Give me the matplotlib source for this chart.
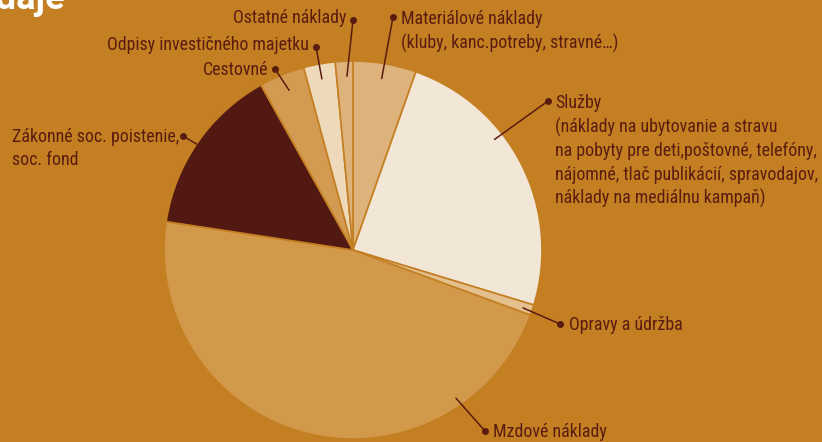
import matplotlib
matplotlib.use("Agg")
import matplotlib.pyplot as plt
from matplotlib import font_manager
import numpy as np

# ---- data ----
categories = ["Materiálové náklady", "Služby", "Opravy a údržba", "Mzdové náklady",
              "Zákonné soc. poistenie, soc. fond", "Cestovné",
              "Odpisy investičného majetku", "Ostatné náklady"]
values = [5.4, 24.3, 0.9, 46.8, 14.5, 3.9, 2.7, 1.5]
label_texts = ["Materiálové náklady\n(kluby, kanc.potreby, stravné…)",
               "Služby\n(náklady na ubytovanie a stravu\nna pobyty pre deti,poštovné, telefóny,\nnájomné, tlač publikácií, spravodajov,\nnáklady na mediálnu kampaň)",
               "Opravy a údržba",
               "Mzdové náklady",
               "Zákonné soc. poistenie,\nsoc. fond",
               "Cestovné",
               "Odpisy investičného majetku",
               "Ostatné náklady"]
title_text = "Výdaje"

# ---- style ----
BG = "#C47F22"
TXT = "#5A1C10"
colors = ["#DDB27B", "#F2E6D7", "#E3C08E", "#D2994B", "#521812", "#D39B52", "#EEDABB", "#DDB27B"]

names = {f.name for f in font_manager.fontManager.ttflist}
family = "DejaVu Sans"
for cand in ["Roboto Condensed", "Liberation Sans Narrow", "Open Sans Condensed", "Roboto"]:
    if cand in names:
        family = cand
        break
plt.rcParams["font.family"] = [family, "DejaVu Sans"]

W, H = 822, 442
fig = plt.figure(figsize=(W / 100, H / 100), dpi=100, facecolor=BG)

cx, cy, R = 353, 250, 189
pie_ax = fig.add_axes([(cx - R) / W, (H - cy - R) / H, 2 * R / W, 2 * R / H])
pie_ax.set_facecolor(BG)
pie_ax.pie(values, colors=colors, startangle=90, counterclock=False,
           wedgeprops=dict(edgecolor=BG, linewidth=1.2))
pie_ax.set_xlim(-1, 1)
pie_ax.set_ylim(-1, 1)
pie_ax.set_aspect("equal")
pie_ax.axis("off")

ov = fig.add_axes([0, 0, 1, 1], facecolor="none")
ov.set_xlim(0, W)
ov.set_ylim(H, 0)
ov.axis("off")

# label layout: (inner angle deg, inner radius frac, dot x, dot y, text x, text y, ha, va)
layout = [
    (80.5, 0.92, 393, 17, 401, 10, "left", "top"),
    (38.0, 0.95, 548, 101, 555, 94, "left", "top"),
    (-18.8, 0.95, 560, 324, 569, 325, "left", "center"),
    (-55.2, 0.955, 485, 431, 493, 432, "left", "center"),
    (145.9, 1.0, 183, 136, 12, 128, "left", "top"),
    (111.8, 0.91, 275, 69, 268, 70, "right", "center"),
    (100.3, 0.92, 316, 47, 309, 45, "right", "center"),
    (92.0, 0.92, 353, 20, 346, 18, "right", "center"),
]
fs = 12.9
for txt, (ang, rf, dx, dy, tx, ty, ha, va) in zip(label_texts, layout):
    a = np.deg2rad(ang)
    ix = cx + R * rf * np.cos(a)
    iy = cy - R * rf * np.sin(a)
    ov.plot([ix, dx], [iy, dy], color=TXT, lw=1.1, solid_capstyle="round")
    ov.plot([dx], [dy], "o", color=TXT, ms=4)
    ov.text(tx, ty, txt, ha=ha, va=va, fontsize=fs, color=TXT, linespacing=1.38)

ov.text(65, 9, title_text, ha="right", va="baseline", fontsize=26, color="white",
        fontweight="bold", family=["Roboto", "DejaVu Sans"])

fig.savefig("out.png", dpi=100, facecolor=BG)
